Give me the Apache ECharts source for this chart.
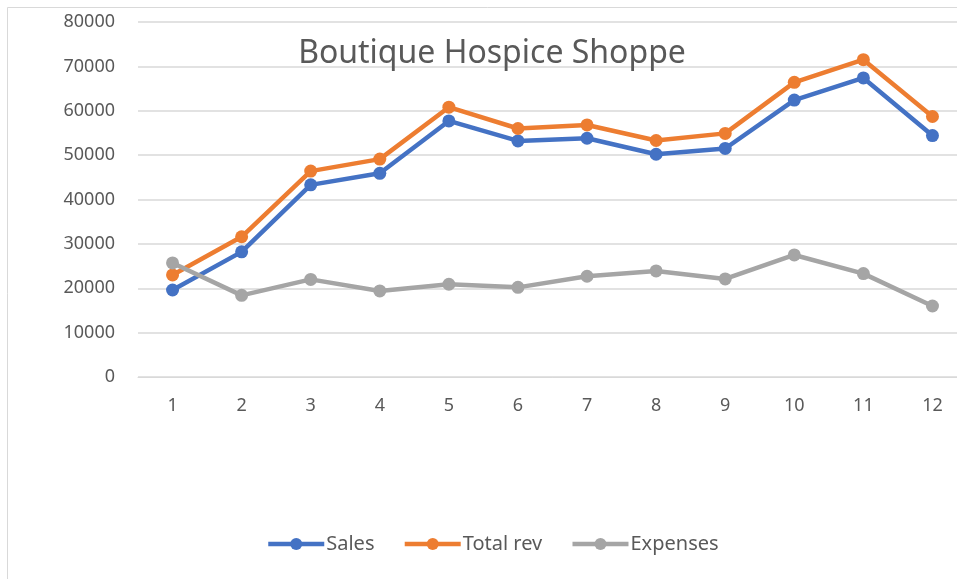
<!DOCTYPE html>
<html>
<head>
    <meta charset="utf-8">
    <title>Boutique Hospice Shoppe</title>
    <script src="https://cdn.jsdelivr.net/npm/echarts@6/dist/echarts.min.js"></script>
    <style>
        html,body{
            height: 100%;
            margin: 0;
            padding: 0;
            background: #fff;
            overflow: hidden;
        }
    </style>
</head>
<body>
    <!-- the chart runs past the right edge of the window, as in the reference -->
    <div id="main" style="width: 967px;height:579px;"></div>
    <script type="text/javascript">
    var months = ['1','2','3','4','5','6','7','8','9','10','11','12'];
    var sales = [19600, 28200, 43300, 45900, 57700, 53200, 53800, 50200, 51500, 62400, 67400, 54400];
    var totalRev = [23000, 31600, 46400, 49100, 60800, 56000, 56800, 53300, 54900, 66400, 71500, 58700];
    var expenses = [25700, 18400, 22000, 19400, 20900, 20200, 22700, 23900, 22100, 27500, 23300, 16000];

    var font = '"Noto Sans", "Open Sans", sans-serif';

    var myChart = echarts.init(document.getElementById('main'));

    function lineSeries(name, color, data){
        return {
            name: name,
            type: 'line',
            data: data,
            symbol: 'circle',
            symbolSize: 13,
            lineStyle: { color: color, width: 4.5 },
            itemStyle: { color: color },
            emphasis: { disabled: true }
        };
    }

    var option = {
        animation: false,
        backgroundColor: '#fff',
        textStyle: { fontFamily: font },
        title: {
            text: 'Boutique Hospice Shoppe',
            left: 487,
            textAlign: 'center',
            top: 33,
            textStyle: {
                color: '#595959',
                fontSize: 32,
                fontWeight: 'normal',
                fontFamily: font
            }
        },
        graphic: [{
            type: 'rect',
            shape: { x: 7.5, y: 7.5, width: 1000, height: 1000 },
            style: { fill: 'none', stroke: '#d9d9d9', lineWidth: 1 },
            z: -1
        }],
        legend: {
            bottom: 20,
            left: 261,
            itemWidth: 56,
            itemHeight: 15,
            itemGap: 28,
            lineStyle: { width: 4.5 },
            textStyle: { color: '#595959', fontSize: 20, fontFamily: font, padding: [0, 0, 0, -3] },
            data: ['Sales', 'Total rev', 'Expenses']
        },
        grid: {
            left: 138,
            right: 0,
            top: 22,
            bottom: 202,
            containLabel: false
        },
        xAxis: {
            type: 'category',
            data: months,
            boundaryGap: true,
            axisLine: { lineStyle: { color: '#d9d9d9', width: 1 } },
            axisTick: { show: false },
            axisLabel: { color: '#595959', fontSize: 18, margin: 20, fontFamily: font }
        },
        yAxis: {
            type: 'value',
            min: 0,
            max: 80000,
            interval: 10000,
            axisLine: { show: false },
            axisTick: { show: false },
            axisLabel: {
                color: '#595959', fontSize: 18, margin: 23, fontFamily: font,
                formatter: function(v){ return String(v); }
            },
            splitLine: { lineStyle: { color: '#d9d9d9', width: 1.5 } }
        },
        series: [
            lineSeries('Sales', '#4472c4', sales),
            lineSeries('Total rev', '#ed7d31', totalRev),
            lineSeries('Expenses', '#a5a5a5', expenses)
        ]
    };

    myChart.setOption(option);
    </script>
</body>
</html>
